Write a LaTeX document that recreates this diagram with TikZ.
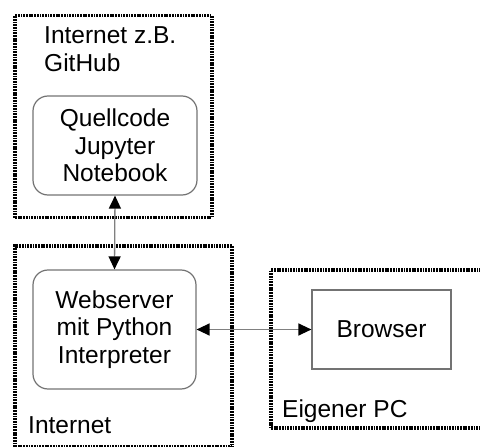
\documentclass[tikz,border=0pt]{standalone}
\usepackage{fontspec}
\setmainfont{Liberation Sans}
\usetikzlibrary{arrows.meta}
\begin{document}
\begin{tikzpicture}[x=1pt,y=-1pt,
  every node/.style={font=\fontsize{24.5}{27.5}\selectfont},
  zone/.style={draw=black,line width=3.2pt,dash pattern=on 1.8pt off 0.9pt,inner sep=0pt},
  roundbox/.style={draw=black!55,line width=1.2pt,rounded corners=15pt,align=center,inner sep=0pt},
  plainbox/.style={draw=black!55,line width=1.2pt,align=center,inner sep=0pt},
  label/.style={inner sep=0pt,align=left},
  link/.style={draw=black!50,line width=1.3pt,{Triangle[length=13pt,width=12pt,black]}-{Triangle[length=13pt,width=12pt,black]}}]
\useasboundingbox (0,0) rectangle (480,447);
\node[zone,minimum width=197pt,minimum height=202pt] (z1) at (113.5,116.5) {};
\node[zone,minimum width=217pt,minimum height=201pt] (z2) at (123.5,346.5) {};
\node[zone,minimum width=215pt,minimum height=158pt] (z3) at (378.5,349) {};
\node[label,anchor=north west] (l1) at (44,26.5) {Internet z.B.\\GitHub};
\node[label,anchor=base west] (l2) at (28,433) {Internet};
\node[label,anchor=base west] (l3) at (282,417) {Eigener PC};
\node[roundbox,minimum width=164pt,minimum height=99pt] (q) at (115,145.5) {Quellcode\\Jupyter\\Notebook};
\node[roundbox,minimum width=163pt,minimum height=119pt] (w) at (114.5,329.5) {Webserver\\mit Python\\Interpreter};
\node[plainbox,minimum width=139pt,minimum height=79pt] (b) at (381.5,329.5) {Browser};
\draw[link] (q.south) -- (w.north);
\draw[link] (w.east) -- (b.west);
\end{tikzpicture}
\end{document}
